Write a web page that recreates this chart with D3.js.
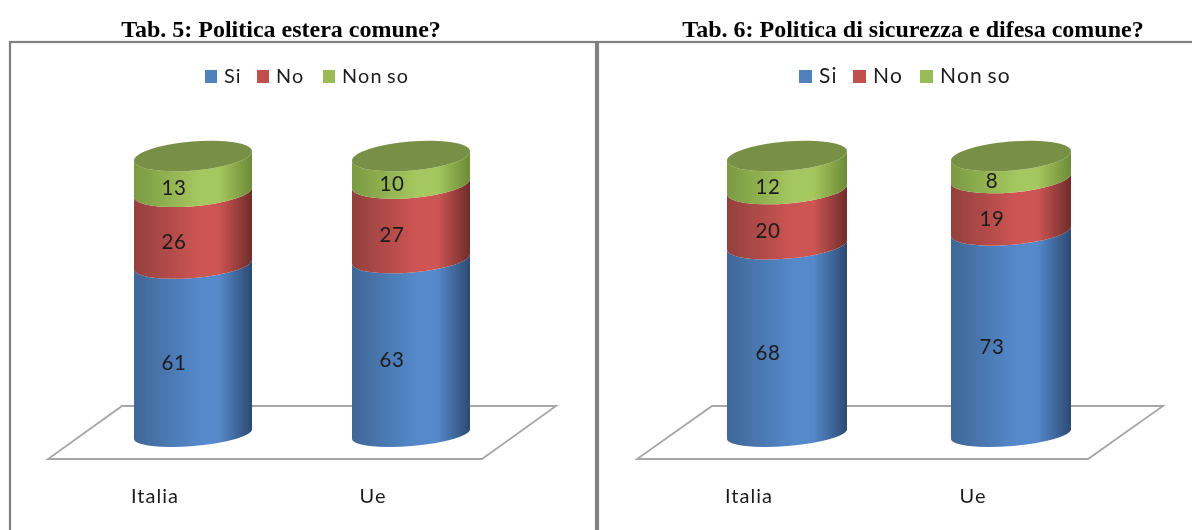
<!DOCTYPE html>
<html>
<head>
<meta charset="utf-8">
<script src="https://cdn.jsdelivr.net/npm/d3@7"></script>
<style>
  html, body { margin: 0; padding: 0; background: #fff; overflow: hidden; }
  svg { display: block; }
  .title { font: bold 24px "Liberation Serif", serif; fill: #000; text-anchor: middle; }
  .legend, .cat, .val { font-family: Lato, "Open Sans", sans-serif; fill: #1c1c1c; }
  .val { text-anchor: middle; font-size: 20.5px; letter-spacing: 0.6px; }
  .cat { font-size: 20px; letter-spacing: 1px; }
  .legend { letter-spacing: 1.2px; word-spacing: -2px; }
</style>
</head>
<body>
<svg id="chart" width="1192" height="530"></svg>
<script>
var categories = ["Italia", "Ue"];
var seriesNames = ["Si", "No", "Non so"];

var titleA = "Tab. 5: Politica estera comune?";
var siA = [61, 63];
var noA = [26, 27];
var nonSoA = [13, 10];

var titleB = "Tab. 6: Politica di sicurezza e difesa comune?";
var siB = [68, 73];
var noB = [20, 19];
var nonSoB = [12, 8];

var shades = [
  {left: "#3f6797", mid: "#5589cb", right: "#2c4a72"},
  {left: "#93403d", mid: "#cd5553", right: "#702c2a"},
  {left: "#7b9a42", mid: "#a5c75e", right: "#6d8a37"}
];
var swatches = ["#4f81bd", "#c0504d", "#9bbb59"];
var topColor = "#779044";

var svg = d3.select("#chart");
var defs = svg.append("defs");
shades.forEach(function (s, i) {
  var g = defs.append("linearGradient").attr("id", "shade" + i);
  g.append("stop").attr("offset", "0%").attr("stop-color", s.left);
  g.append("stop").attr("offset", "55%").attr("stop-color", s.mid);
  g.append("stop").attr("offset", "72%").attr("stop-color", s.mid);
  g.append("stop").attr("offset", "100%").attr("stop-color", s.right);
});
// the reference is a slightly soft screenshot
defs.append("filter").attr("id", "soft")
  .attr("filterUnits", "userSpaceOnUse")
  .attr("x", 0).attr("y", 0).attr("width", 1192).attr("height", 530)
  .append("feGaussianBlur").attr("stdDeviation", 0.4);

var y = d3.scaleLinear().domain([0, 100]).range([434, 156]);
// ellipses get rounder towards the top of the cylinder
var ryScale = d3.scaleLinear().domain([0, 100]).range([12, 14.5]);
var root = svg.append("g").attr("filter", "url(#soft)");

var drawPanel = function (p) {
  var g = root.append("g");

  g.append("rect")
    .attr("x", p.box[0]).attr("y", 42)
    .attr("width", p.box[1] - p.box[0]).attr("height", 520)
    .attr("fill", "#fff").attr("stroke", "#808080").attr("stroke-width", 2.2);

  g.append("text").attr("class", "title")
    .attr("x", p.titleX).attr("y", 37)
    .text(p.title);

  // floor
  g.append("path")
    .attr("d", "M" + p.floor[0] + ",406L" + p.floor[1] + ",406L" + p.floor[3] + ",459L" + p.floor[2] + ",459Z")
    .attr("fill", "#fff").attr("stroke", "#a6a6a6").attr("stroke-width", 1.8);

  // legend
  seriesNames.forEach(function (name, i) {
    g.append("rect")
      .attr("x", p.legend[i]).attr("y", 70)
      .attr("width", p.swatch).attr("height", 13)
      .attr("fill", swatches[i]);
    g.append("text").attr("class", "legend")
      .attr("x", p.legend[i] + p.swatch + p.legendGap).attr("y", 83)
      .style("font-size", p.legendFont + "px").text(name);
  });

  var x = d3.scaleBand().domain(categories).range(p.range).paddingInner(p.inner);
  var w = x.bandwidth();
  var tilt = 5;
  var rx = Math.sqrt(w * w / 4 + tilt * tilt);
  var rot = -Math.atan2(tilt, w / 2) * 180 / Math.PI;
  var arc = function (v, sweep, ex, ey) {
    return "A" + rx + "," + ryScale(v) + " " + rot + " 0 " + sweep + " " + ex + "," + ey;
  };

  categories.forEach(function (cat, c) {
    var x0 = x(cat), x1 = x0 + w;
    var stack = 0;
    p.series.forEach(function (vals, s) {
      var from = stack, to = stack + vals[c];
      var yb = y(from), yt = y(to);
      stack = to;
      g.append("path")
        .attr("d", "M" + x0 + "," + (yt + tilt) + arc(to, 0, x1, yt - tilt) +
          "L" + x1 + "," + (yb - tilt) + arc(from, 1, x0, yb + tilt) + "Z")
        .attr("fill", "url(#shade" + s + ")");
      g.append("text").attr("class", "val")
        .attr("x", x0 + w / 2 - 19)
        .attr("y", (yb + yt) / 2 + 14 + 7)
        .text(vals[c]);
    });
    var yTop = y(stack);
    g.append("path")
      .attr("d", "M" + x0 + "," + (yTop + tilt) + arc(stack, 0, x1, yTop - tilt) + arc(stack, 0, x0, yTop + tilt) + "Z")
      .attr("fill", topColor);
    g.append("text").attr("class", "cat")
      .attr("x", x0 + w / 2 - 38).attr("y", 503)
      .attr("text-anchor", "middle").text(cat);
  });
};

drawPanel({
  title: titleA, titleX: 281, box: [10, 596],
  floor: [122, 556, 48, 482],
  legend: [205, 257, 323], swatch: 12, legendGap: 7, legendFont: 19.8,
  range: [134, 470], inner: 100 / 218,
  series: [siA, noA, nonSoA]
});
drawPanel({
  title: titleB, titleX: 913, box: [598, 1200],
  floor: [712, 1163, 637, 1088],
  legend: [799, 853, 920], swatch: 13, legendGap: 7, legendFont: 21,
  range: [727, 1071], inner: 104 / 224,
  series: [siB, noB, nonSoB]
});
</script>
</body>
</html>
